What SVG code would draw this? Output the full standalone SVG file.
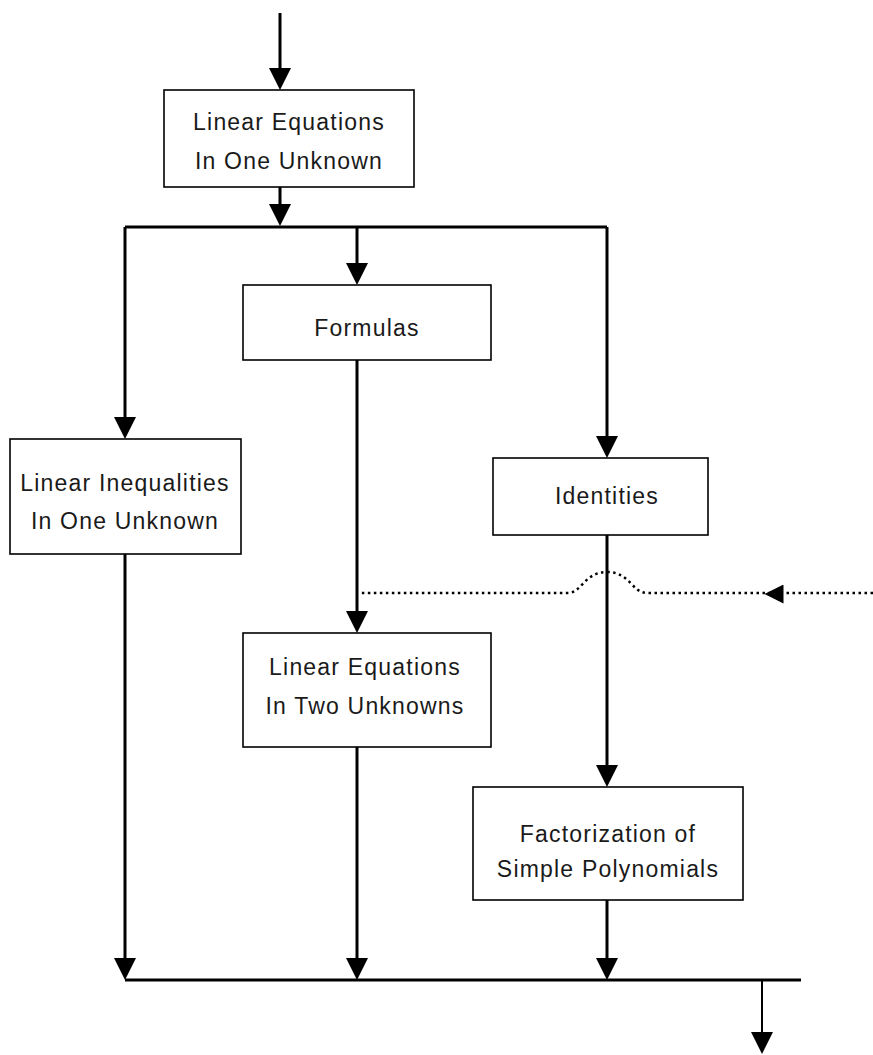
<svg xmlns="http://www.w3.org/2000/svg" width="873" height="1055" viewBox="0 0 873 1055">
  <style>
    .box { fill: #ffffff; stroke: #000000; stroke-width: 1.6; }
    .label { font-family: "Liberation Sans", Arial, sans-serif; font-size: 23px; letter-spacing: 1.2px; fill: #1a1a1a; text-anchor: middle; }
    .flow { fill: none; stroke: #000000; stroke-width: 3; }
    .thin { fill: none; stroke: #000000; stroke-width: 2; }
    .dotted { fill: none; stroke: #000000; stroke-width: 2.5; stroke-dasharray: 2.5 3.5; }
  </style>
  <defs>
    <marker id="head" markerUnits="userSpaceOnUse" markerWidth="22" markerHeight="22" viewBox="0 0 20 20" refX="10" refY="10" orient="auto">
      <path d="M0,0 L20,10 L0,20 Z" fill="#000000"/>
    </marker>
    <marker id="headSmall" markerUnits="userSpaceOnUse" markerWidth="19" markerHeight="19" viewBox="0 0 20 20" refX="10" refY="10" orient="auto">
      <path d="M0,0 L20,10 L0,20 Z" fill="#000000"/>
    </marker>
  </defs>

  <!-- connectors -->
  <g id="connectors">
    <!-- entry into the first topic -->
    <line class="flow" x1="280" y1="13" x2="280" y2="79" marker-end="url(#head)"/>
    <line class="flow" x1="280" y1="187" x2="280" y2="215" marker-end="url(#head)"/>
    <!-- upper distribution bus -->
    <line class="flow" x1="125" y1="227" x2="607" y2="227"/>
    <line class="flow" x1="125" y1="227" x2="125" y2="428" marker-end="url(#head)"/>
    <line class="flow" x1="357" y1="227" x2="357" y2="274" marker-end="url(#head)"/>
    <line class="flow" x1="607" y1="227" x2="607" y2="447" marker-end="url(#head)"/>
    <!-- inner links -->
    <line class="flow" x1="357" y1="360" x2="357" y2="622" marker-end="url(#head)"/>
    <line class="flow" x1="607" y1="535" x2="607" y2="776" marker-end="url(#head)"/>
    <!-- into the lower collecting bus -->
    <line class="flow" x1="125" y1="554" x2="125" y2="969" marker-end="url(#head)"/>
    <line class="flow" x1="357" y1="747" x2="357" y2="969" marker-end="url(#head)"/>
    <line class="flow" x1="607" y1="900" x2="607" y2="969" marker-end="url(#head)"/>
    <line class="flow" x1="125" y1="980" x2="801" y2="980"/>
    <!-- exit -->
    <line class="thin" x1="762" y1="980" x2="762" y2="1043" marker-end="url(#head)"/>
    <!-- dotted external link, hopping over the vertical line -->
    <path class="dotted" d="M873,593 L647,593 C632,593 630,572 607,572 C584,572 582,593 568,593 L360,593"/>
    <line x1="790" y1="594" x2="774" y2="594" stroke="none" marker-end="url(#headSmall)"/>
  </g>

  <g id="node-linear-eq-one">
    <rect class="box" x="164" y="90" width="250" height="97"/>
    <text class="label" x="289" y="130">Linear Equations</text>
    <text class="label" x="289" y="169">In One Unknown</text>
  </g>

  <g id="node-formulas">
    <rect class="box" x="243" y="285" width="248" height="75"/>
    <text class="label" x="367" y="336">Formulas</text>
  </g>

  <g id="node-linear-ineq">
    <rect class="box" x="10" y="439" width="231" height="115"/>
    <text class="label" x="125" y="491">Linear Inequalities</text>
    <text class="label" x="125" y="529">In One Unknown</text>
  </g>

  <g id="node-identities">
    <rect class="box" x="493" y="458" width="215" height="77"/>
    <text class="label" x="607" y="504">Identities</text>
  </g>

  <g id="node-linear-eq-two">
    <rect class="box" x="243" y="633" width="248" height="114"/>
    <text class="label" x="365" y="675">Linear Equations</text>
    <text class="label" x="365" y="714">In Two Unknowns</text>
  </g>

  <g id="node-factorization">
    <rect class="box" x="473" y="787" width="270" height="113"/>
    <text class="label" x="608" y="842">Factorization of</text>
    <text class="label" x="608" y="877">Simple Polynomials</text>
  </g>
</svg>
